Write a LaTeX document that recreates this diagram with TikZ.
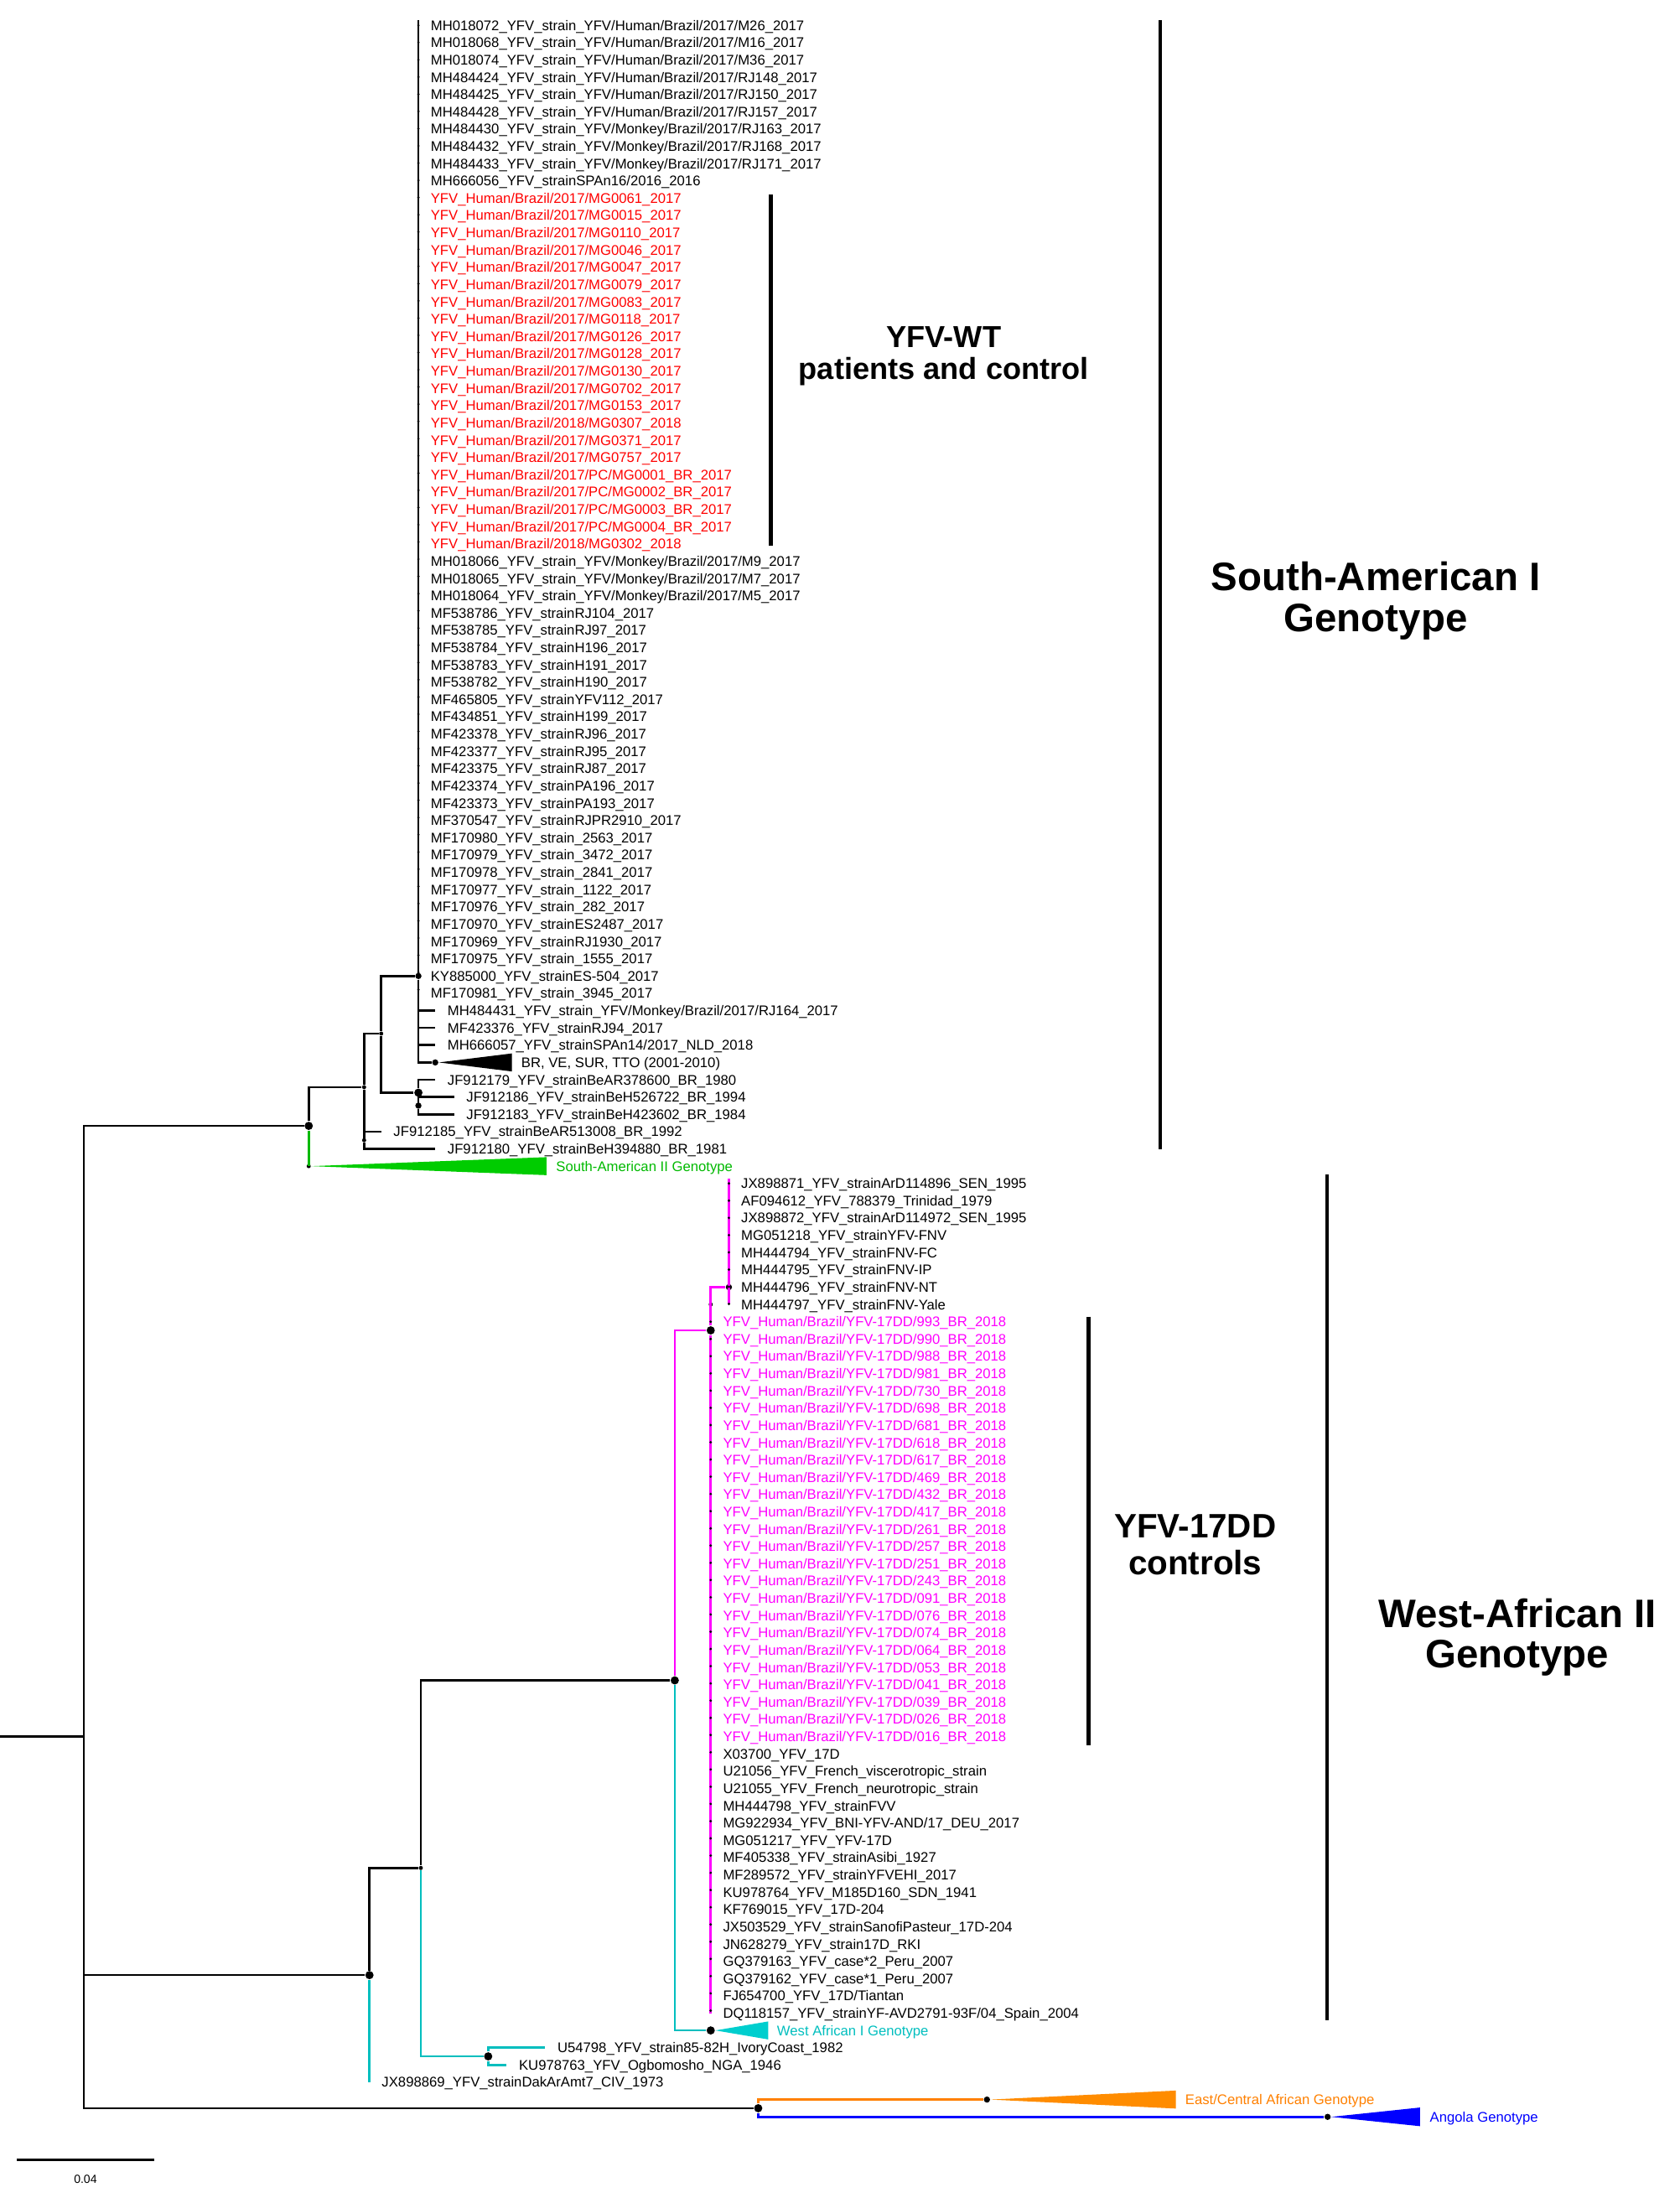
\documentclass[tikz,border=0pt]{standalone}
\usepackage{fontspec}
\setmainfont{Liberation Sans}
\definecolor{wtred}{RGB}{255,0,0}
\definecolor{ddpink}{RGB}{255,0,255}
\definecolor{witeal}{RGB}{0,190,190}
\definecolor{witealfill}{RGB}{0,206,206}
\definecolor{sagreen}{RGB}{0,185,0}
\definecolor{sagreenfill}{RGB}{0,204,0}
\definecolor{ecorange}{RGB}{255,128,0}
\definecolor{ecorangefill}{RGB}{255,140,0}
\definecolor{anblue}{RGB}{0,0,255}
\tikzset{
  branch/.style={line width=0.75pt},
  leaf/.style={anchor=west, inner xsep=4pt, inner ysep=0.3pt, text height=3.4pt, text depth=0pt, font=\fontsize{4.75}{5.5}\selectfont},
  bigdot/.style={circle, fill, inner sep=0pt, minimum size=2.8pt},
  middot/.style={circle, fill, inner sep=0pt, minimum size=2.1pt},
  smalldot/.style={circle, fill, inner sep=0pt, minimum size=1.4pt},
  leafticks/.style={line width=0.9pt, line cap=round, dash pattern=on 0pt off 5.8454pt},
  cladebar/.style={line width=1.3pt},
  clade/.style={align=center, font=\bfseries\fontsize{13.5}{13.8}\selectfont}
}
\begin{document}
\begin{tikzpicture}[x=0.01cm, y=-0.2062cm]
      \useasboundingbox (0,-1.4646) rectangle (2005,125.985);
      \path
        (0,99) coordinate (rootl)
        (100,99) coordinate (root)
        (368.5,63.67) node[bigdot] (sa) {}
        (368.5,66) node[smalldot] (sa2) {}
        (434.6,61.43) node[smalldot] (a1) {}
        (455,58.33) node[smalldot] (a2) {}
        (434.6,64.5) node[smalldot] (a3) {}
        (499.4,55) node[middot] (p) {}
        (499.4,-0.3) coordinate (ptop)
        (519.5,60) node[middot] (br) {}
        (499.4,61.75) node[bigdot] (b) {}
        (499.4,62.5) node[middot] (b2) {}
        (441,112.8) node[bigdot] (wa0) {}
        (502.3,106.6) node[smalldot] (wa1) {}
        (805.4,95.75) node[bigdot] (wa2) {}
        (582.7,117.5) node[bigdot] (wa3) {}
        (848.3,75.5) node[bigdot] (wa4) {}
        (848.3,74) node[smalldot] (wa4t) {}
        (848.3,115) coordinate (wa4bot)
        (870,73) node[middot] (wa5) {}
        (870,66.7) coordinate (wa5top)
        (870,74) coordinate (wa5bot)
        (848.3,116) node[bigdot] (wai) {}
        (905,120.5) node[bigdot] (ea0) {}
        (1178,120) node[middot] (eca) {}
        (1584.6,121) node[middot] (ang) {};
      \path
        (499.4,0) node[leaf] (mh018072) {MH018072\_YFV\_strain\_YFV/Human/Brazil/2017/M26\_2017}
        (499.4,1) node[leaf] (mh018068) {MH018068\_YFV\_strain\_YFV/Human/Brazil/2017/M16\_2017}
        (499.4,2) node[leaf] (mh018074) {MH018074\_YFV\_strain\_YFV/Human/Brazil/2017/M36\_2017}
        (499.4,3) node[leaf] (mh484424) {MH484424\_YFV\_strain\_YFV/Human/Brazil/2017/RJ148\_2017}
        (499.4,4) node[leaf] (mh484425) {MH484425\_YFV\_strain\_YFV/Human/Brazil/2017/RJ150\_2017}
        (499.4,5) node[leaf] (mh484428) {MH484428\_YFV\_strain\_YFV/Human/Brazil/2017/RJ157\_2017}
        (499.4,6) node[leaf] (mh484430) {MH484430\_YFV\_strain\_YFV/Monkey/Brazil/2017/RJ163\_2017}
        (499.4,7) node[leaf] (mh484432) {MH484432\_YFV\_strain\_YFV/Monkey/Brazil/2017/RJ168\_2017}
        (499.4,8) node[leaf] (mh484433) {MH484433\_YFV\_strain\_YFV/Monkey/Brazil/2017/RJ171\_2017}
        (499.4,9) node[leaf] (mh666056) {MH666056\_YFV\_strainSPAn16/2016\_2016}
        (499.4,10) node[leaf, text=wtred] (mg0061) {YFV\_Human/Brazil/2017/MG0061\_2017}
        (499.4,11) node[leaf, text=wtred] (mg0015) {YFV\_Human/Brazil/2017/MG0015\_2017}
        (499.4,12) node[leaf, text=wtred] (mg0110) {YFV\_Human/Brazil/2017/MG0110\_2017}
        (499.4,13) node[leaf, text=wtred] (mg0046) {YFV\_Human/Brazil/2017/MG0046\_2017}
        (499.4,14) node[leaf, text=wtred] (mg0047) {YFV\_Human/Brazil/2017/MG0047\_2017}
        (499.4,15) node[leaf, text=wtred] (mg0079) {YFV\_Human/Brazil/2017/MG0079\_2017}
        (499.4,16) node[leaf, text=wtred] (mg0083) {YFV\_Human/Brazil/2017/MG0083\_2017}
        (499.4,17) node[leaf, text=wtred] (mg0118) {YFV\_Human/Brazil/2017/MG0118\_2017}
        (499.4,18) node[leaf, text=wtred] (mg0126) {YFV\_Human/Brazil/2017/MG0126\_2017}
        (499.4,19) node[leaf, text=wtred] (mg0128) {YFV\_Human/Brazil/2017/MG0128\_2017}
        (499.4,20) node[leaf, text=wtred] (mg0130) {YFV\_Human/Brazil/2017/MG0130\_2017}
        (499.4,21) node[leaf, text=wtred] (mg0702) {YFV\_Human/Brazil/2017/MG0702\_2017}
        (499.4,22) node[leaf, text=wtred] (mg0153) {YFV\_Human/Brazil/2017/MG0153\_2017}
        (499.4,23) node[leaf, text=wtred] (mg0307) {YFV\_Human/Brazil/2018/MG0307\_2018}
        (499.4,24) node[leaf, text=wtred] (mg0371) {YFV\_Human/Brazil/2017/MG0371\_2017}
        (499.4,25) node[leaf, text=wtred] (mg0757) {YFV\_Human/Brazil/2017/MG0757\_2017}
        (499.4,26) node[leaf, text=wtred] (pcmg0001) {YFV\_Human/Brazil/2017/PC/MG0001\_BR\_2017}
        (499.4,27) node[leaf, text=wtred] (pcmg0002) {YFV\_Human/Brazil/2017/PC/MG0002\_BR\_2017}
        (499.4,28) node[leaf, text=wtred] (pcmg0003) {YFV\_Human/Brazil/2017/PC/MG0003\_BR\_2017}
        (499.4,29) node[leaf, text=wtred] (pcmg0004) {YFV\_Human/Brazil/2017/PC/MG0004\_BR\_2017}
        (499.4,30) node[leaf, text=wtred] (mg0302) {YFV\_Human/Brazil/2018/MG0302\_2018}
        (499.4,31) node[leaf] (mh018066) {MH018066\_YFV\_strain\_YFV/Monkey/Brazil/2017/M9\_2017}
        (499.4,32) node[leaf] (mh018065) {MH018065\_YFV\_strain\_YFV/Monkey/Brazil/2017/M7\_2017}
        (499.4,33) node[leaf] (mh018064) {MH018064\_YFV\_strain\_YFV/Monkey/Brazil/2017/M5\_2017}
        (499.4,34) node[leaf] (mf538786) {MF538786\_YFV\_strainRJ104\_2017}
        (499.4,35) node[leaf] (mf538785) {MF538785\_YFV\_strainRJ97\_2017}
        (499.4,36) node[leaf] (mf538784) {MF538784\_YFV\_strainH196\_2017}
        (499.4,37) node[leaf] (mf538783) {MF538783\_YFV\_strainH191\_2017}
        (499.4,38) node[leaf] (mf538782) {MF538782\_YFV\_strainH190\_2017}
        (499.4,39) node[leaf] (mf465805) {MF465805\_YFV\_strainYFV112\_2017}
        (499.4,40) node[leaf] (mf434851) {MF434851\_YFV\_strainH199\_2017}
        (499.4,41) node[leaf] (mf423378) {MF423378\_YFV\_strainRJ96\_2017}
        (499.4,42) node[leaf] (mf423377) {MF423377\_YFV\_strainRJ95\_2017}
        (499.4,43) node[leaf] (mf423375) {MF423375\_YFV\_strainRJ87\_2017}
        (499.4,44) node[leaf] (mf423374) {MF423374\_YFV\_strainPA196\_2017}
        (499.4,45) node[leaf] (mf423373) {MF423373\_YFV\_strainPA193\_2017}
        (499.4,46) node[leaf] (mf370547) {MF370547\_YFV\_strainRJPR2910\_2017}
        (499.4,47) node[leaf] (mf170980) {MF170980\_YFV\_strain\_2563\_2017}
        (499.4,48) node[leaf] (mf170979) {MF170979\_YFV\_strain\_3472\_2017}
        (499.4,49) node[leaf] (mf170978) {MF170978\_YFV\_strain\_2841\_2017}
        (499.4,50) node[leaf] (mf170977) {MF170977\_YFV\_strain\_1122\_2017}
        (499.4,51) node[leaf] (mf170976) {MF170976\_YFV\_strain\_282\_2017}
        (499.4,52) node[leaf] (mf170970) {MF170970\_YFV\_strainES2487\_2017}
        (499.4,53) node[leaf] (mf170969) {MF170969\_YFV\_strainRJ1930\_2017}
        (499.4,54) node[leaf] (mf170975) {MF170975\_YFV\_strain\_1555\_2017}
        (499.4,55) node[leaf] (ky885000) {KY885000\_YFV\_strainES-504\_2017}
        (499.4,56) node[leaf] (mf170981) {MF170981\_YFV\_strain\_3945\_2017}
        (519.5,57) node[leaf] (mh484431) {MH484431\_YFV\_strain\_YFV/Monkey/Brazil/2017/RJ164\_2017}
        (519.5,58) node[leaf] (mf423376) {MF423376\_YFV\_strainRJ94\_2017}
        (519.5,59) node[leaf] (mh666057) {MH666057\_YFV\_strainSPAn14/2017\_NLD\_2018}
        (607.5,60) node[leaf] (brve) {BR, VE, SUR, TTO (2001-2010)}
        (519.5,61) node[leaf] (jf912179) {JF912179\_YFV\_strainBeAR378600\_BR\_1980}
        (542,62) node[leaf] (jf912186) {JF912186\_YFV\_strainBeH526722\_BR\_1994}
        (542,63) node[leaf] (jf912183) {JF912183\_YFV\_strainBeH423602\_BR\_1984}
        (455,64) node[leaf] (jf912185) {JF912185\_YFV\_strainBeAR513008\_BR\_1992}
        (519.5,65) node[leaf] (jf912180) {JF912180\_YFV\_strainBeH394880\_BR\_1981}
        (649,66) node[leaf, text=sagreen] (satwo) {South-American II Genotype}
        (870,67) node[leaf] (jx898871) {JX898871\_YFV\_strainArD114896\_SEN\_1995}
        (870,68) node[leaf] (af094612) {AF094612\_YFV\_788379\_Trinidad\_1979}
        (870,69) node[leaf] (jx898872) {JX898872\_YFV\_strainArD114972\_SEN\_1995}
        (870,70) node[leaf] (mg051218) {MG051218\_YFV\_strainYFV-FNV}
        (870,71) node[leaf] (mh444794) {MH444794\_YFV\_strainFNV-FC}
        (870,72) node[leaf] (mh444795) {MH444795\_YFV\_strainFNV-IP}
        (870,73) node[leaf] (mh444796) {MH444796\_YFV\_strainFNV-NT}
        (870,74) node[leaf] (mh444797) {MH444797\_YFV\_strainFNV-Yale}
        (848.3,75) node[leaf, text=ddpink] (dd993) {YFV\_Human/Brazil/YFV-17DD/993\_BR\_2018}
        (848.3,76) node[leaf, text=ddpink] (dd990) {YFV\_Human/Brazil/YFV-17DD/990\_BR\_2018}
        (848.3,77) node[leaf, text=ddpink] (dd988) {YFV\_Human/Brazil/YFV-17DD/988\_BR\_2018}
        (848.3,78) node[leaf, text=ddpink] (dd981) {YFV\_Human/Brazil/YFV-17DD/981\_BR\_2018}
        (848.3,79) node[leaf, text=ddpink] (dd730) {YFV\_Human/Brazil/YFV-17DD/730\_BR\_2018}
        (848.3,80) node[leaf, text=ddpink] (dd698) {YFV\_Human/Brazil/YFV-17DD/698\_BR\_2018}
        (848.3,81) node[leaf, text=ddpink] (dd681) {YFV\_Human/Brazil/YFV-17DD/681\_BR\_2018}
        (848.3,82) node[leaf, text=ddpink] (dd618) {YFV\_Human/Brazil/YFV-17DD/618\_BR\_2018}
        (848.3,83) node[leaf, text=ddpink] (dd617) {YFV\_Human/Brazil/YFV-17DD/617\_BR\_2018}
        (848.3,84) node[leaf, text=ddpink] (dd469) {YFV\_Human/Brazil/YFV-17DD/469\_BR\_2018}
        (848.3,85) node[leaf, text=ddpink] (dd432) {YFV\_Human/Brazil/YFV-17DD/432\_BR\_2018}
        (848.3,86) node[leaf, text=ddpink] (dd417) {YFV\_Human/Brazil/YFV-17DD/417\_BR\_2018}
        (848.3,87) node[leaf, text=ddpink] (dd261) {YFV\_Human/Brazil/YFV-17DD/261\_BR\_2018}
        (848.3,88) node[leaf, text=ddpink] (dd257) {YFV\_Human/Brazil/YFV-17DD/257\_BR\_2018}
        (848.3,89) node[leaf, text=ddpink] (dd251) {YFV\_Human/Brazil/YFV-17DD/251\_BR\_2018}
        (848.3,90) node[leaf, text=ddpink] (dd243) {YFV\_Human/Brazil/YFV-17DD/243\_BR\_2018}
        (848.3,91) node[leaf, text=ddpink] (dd091) {YFV\_Human/Brazil/YFV-17DD/091\_BR\_2018}
        (848.3,92) node[leaf, text=ddpink] (dd076) {YFV\_Human/Brazil/YFV-17DD/076\_BR\_2018}
        (848.3,93) node[leaf, text=ddpink] (dd074) {YFV\_Human/Brazil/YFV-17DD/074\_BR\_2018}
        (848.3,94) node[leaf, text=ddpink] (dd064) {YFV\_Human/Brazil/YFV-17DD/064\_BR\_2018}
        (848.3,95) node[leaf, text=ddpink] (dd053) {YFV\_Human/Brazil/YFV-17DD/053\_BR\_2018}
        (848.3,96) node[leaf, text=ddpink] (dd041) {YFV\_Human/Brazil/YFV-17DD/041\_BR\_2018}
        (848.3,97) node[leaf, text=ddpink] (dd039) {YFV\_Human/Brazil/YFV-17DD/039\_BR\_2018}
        (848.3,98) node[leaf, text=ddpink] (dd026) {YFV\_Human/Brazil/YFV-17DD/026\_BR\_2018}
        (848.3,99) node[leaf, text=ddpink] (dd016) {YFV\_Human/Brazil/YFV-17DD/016\_BR\_2018}
        (848.3,100) node[leaf] (x03700) {X03700\_YFV\_17D}
        (848.3,101) node[leaf] (u21056) {U21056\_YFV\_French\_viscerotropic\_strain}
        (848.3,102) node[leaf] (u21055) {U21055\_YFV\_French\_neurotropic\_strain}
        (848.3,103) node[leaf] (mh444798) {MH444798\_YFV\_strainFVV}
        (848.3,104) node[leaf] (mg922934) {MG922934\_YFV\_BNI-YFV-AND/17\_DEU\_2017}
        (848.3,105) node[leaf] (mg051217) {MG051217\_YFV\_YFV-17D}
        (848.3,106) node[leaf] (mf405338) {MF405338\_YFV\_strainAsibi\_1927}
        (848.3,107) node[leaf] (mf289572) {MF289572\_YFV\_strainYFVEHI\_2017}
        (848.3,108) node[leaf] (ku978764) {KU978764\_YFV\_M185D160\_SDN\_1941}
        (848.3,109) node[leaf] (kf769015) {KF769015\_YFV\_17D-204}
        (848.3,110) node[leaf] (jx503529) {JX503529\_YFV\_strainSanofiPasteur\_17D-204}
        (848.3,111) node[leaf] (jn628279) {JN628279\_YFV\_strain17D\_RKI}
        (848.3,112) node[leaf] (gq379163) {GQ379163\_YFV\_case*2\_Peru\_2007}
        (848.3,113) node[leaf] (gq379162) {GQ379162\_YFV\_case*1\_Peru\_2007}
        (848.3,114) node[leaf] (fj654700) {FJ654700\_YFV\_17D/Tiantan}
        (848.3,115) node[leaf] (dq118157) {DQ118157\_YFV\_strainYF-AVD2791-93F/04\_Spain\_2004}
        (912.7,116) node[leaf, text=witeal] (waone) {West African I Genotype}
        (650.7,117) node[leaf] (u54798) {U54798\_YFV\_strain85-82H\_IvoryCoast\_1982}
        (604.7,118) node[leaf] (ku978763) {KU978763\_YFV\_Ogbomosho\_NGA\_1946}
        (441,119) node[leaf] (jx898869) {JX898869\_YFV\_strainDakArAmt7\_CIV\_1973}
        (1400,120) node[leaf, text=ecorange] (ecagen) {East/Central African Genotype}
        (1692,121) node[leaf, text=anblue] (anggen) {Angola Genotype};
      \path
        (1385,-0.3) coordinate (sabart) (1385,65) coordinate (sabarb)
        (920,9.8) coordinate (wtbart) (920,30.1) coordinate (wtbarb)
        (1299,74.7) coordinate (ddbart) (1299,99.5) coordinate (ddbarb)
        (1584,66.5) coordinate (wabart) (1584,115.4) coordinate (wabarb)
        (1642,33.3) node[clade] (saone) {South-American I\\Genotype}
        (1126.5,19.15) node[clade, font=\bfseries\fontsize{10.3}{10.9}\selectfont] (wtlbl) {YFV-WT\\patients and control}
        (1426.6,87.9) node[clade, font=\bfseries\fontsize{11.5}{12.4}\selectfont] (ddlbl) {YFV-17DD\\controls}
        (1811,93.27) node[clade] (watwo) {West-African II\\Genotype}
        (20,123.5) coordinate (sbl) (184.4,123.5) coordinate (sbr)
        (102,124.6) node[font=\fontsize{4}{4.5}\selectfont] (sbtxt) {0.04};
      \begin{scope}[branch]
        \draw (rootl) -- (root);
        \draw (root) |- (sa);
        \draw (root) |- (wa0);
        \draw (root) |- (ea0);
        \draw (sa) |- (a1);
        \draw[sagreen] (sa) |- (sa2);
        \draw (a1) |- (a2);
        \draw (a1) |- (a3);
        \draw (a2) |- (p);
        \draw (a2) |- (b);
        \draw (ptop) -- (p);
        \draw (p) |- (mh484431);
        \draw (p) |- (mf423376);
        \draw (p) |- (mh666057);
        \draw (p) |- (br);
        \draw (b) |- (jf912179);
        \draw (b) |- (b2);
        \draw (b2) |- (jf912186);
        \draw (b2) |- (jf912183);
        \draw (a3) |- (jf912185);
        \draw (a3) |- (jf912180);
        \draw (wa0) |- (wa1);
        \draw[witeal] (wa0) |- (jx898869);
        \draw (wa1) |- (wa2);
        \draw[witeal] (wa1) |- (wa3);
        \draw[witeal] (wa3) |- (u54798);
        \draw[witeal] (wa3) |- (ku978763);
        \draw[ddpink] (wa2) |- (wa4);
        \draw[witeal] (wa2) |- (wai);
        \draw[ddpink] (wa4) |- (wa5);
        \draw[ddpink] (wa4) -- (wa4bot);
        \draw[ddpink] (wa5top) -- (wa5bot);
        \draw[ecorange] (ea0) |- (eca);
        \draw[anblue] (ea0) |- (ang);
        \draw (sbl) -- (sbr);
      \end{scope}
      \draw[leafticks] (mh018072.west) -- ([yshift=-0.3pt]mf170981.west);
      \draw[leafticks] (jx898871.west) -- ([yshift=-0.3pt]mh444797.west);
      \draw[leafticks] (dd993.west) -- ([yshift=-0.3pt]dq118157.west);
      \fill[sagreenfill] (sa2.east) -- ++(280.5,-0.52) -- ++(0,1.04) -- cycle;
      \fill[black] (br.east) -- ++(87,-0.52) -- ++(0,1.04) -- cycle;
      \fill[witealfill] (wai.east) -- ++(63,-0.52) -- ++(0,1.04) -- cycle;
      \fill[ecorangefill] (eca.east) -- ++(221,-0.52) -- ++(0,1.04) -- cycle;
      \fill[anblue] (ang.east) -- ++(106,-0.54) -- ++(0,1.08) -- cycle;
      \begin{scope}[cladebar]
        \draw (sabart) -- (sabarb);
        \draw (wtbart) -- (wtbarb);
        \draw (ddbart) -- (ddbarb);
        \draw (wabart) -- (wabarb);
      \end{scope}
    \end{tikzpicture}
\end{document}
